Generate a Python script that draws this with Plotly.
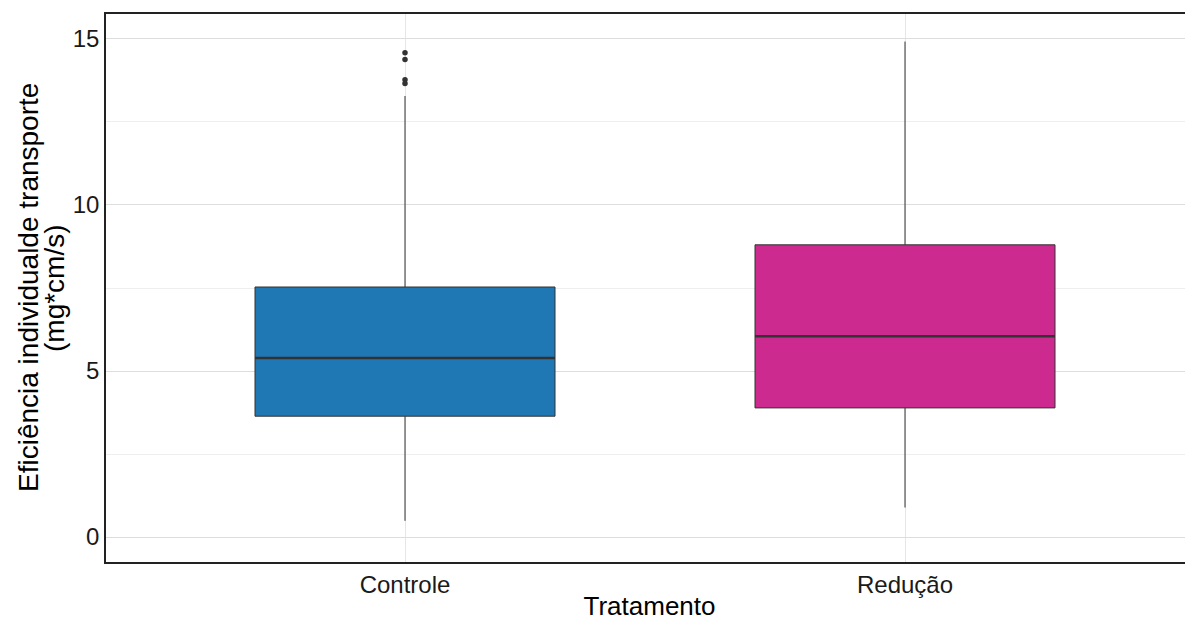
import plotly.graph_objects as go

categories = ["Controle", "Redução"]
q1 = [3.64, 3.89]
median = [5.39, 6.05]
q3 = [7.53, 8.80]
lower_whisker = [0.49, 0.89]
upper_whisker = [13.28, 14.92]
fill_colors = ["#1F77B4", "#CC2A8E"]

outlier_cat = ["Controle", "Controle", "Controle", "Controle"]
outlier_val = [14.58, 14.38, 13.77, 13.66]

ytitle_lines = ["Eficiência individualde transporte", "(mg*cm/s)"]

fig = go.Figure()
for i, cat in enumerate(categories):
    fig.add_trace(go.Box(
        x=[cat], q1=[q1[i]], median=[median[i]], q3=[q3[i]],
        lowerfence=[lower_whisker[i]], upperfence=[upper_whisker[i]],
        fillcolor=fill_colors[i], line=dict(color="#333333", width=1),
        whiskerwidth=0, boxpoints=False, showlegend=False, name=cat,
        width=0.6, hoverinfo="skip"))
# thicker median line overlay
for i, cat in enumerate(categories):
    fig.add_trace(go.Box(
        x=[cat], q1=[median[i]], median=[median[i]], q3=[median[i]],
        lowerfence=[median[i]], upperfence=[median[i]],
        fillcolor="rgba(0,0,0,0)", line=dict(color="#333333", width=2.5),
        whiskerwidth=0, boxpoints=False, showlegend=False, name=cat,
        width=0.6, hoverinfo="skip"))

fig.add_trace(go.Scatter(
    x=outlier_cat, y=outlier_val, mode="markers",
    marker=dict(color="#333333", size=5.5), showlegend=False))

for text, shift in zip(ytitle_lines, [-78, -52]):
    fig.add_annotation(
        text=text, xref="paper", yref="paper", x=0, y=0.5,
        xanchor="center", yanchor="middle", xshift=shift,
        textangle=-90, showarrow=False,
        font=dict(size=28, color="black"))

fig.update_layout(
    width=1185, height=613,
    margin=dict(l=98, r=0, t=6, b=59),
    paper_bgcolor="white", plot_bgcolor="white",
    boxmode="overlay",
    font=dict(family="Liberation Sans, Arial, sans-serif", color="black"),
    xaxis=dict(
        type="category", range=[-0.598, 1.576],
        showline=True, linecolor="#222222", linewidth=1.5, mirror=True,
        showgrid=True, gridcolor="#E6E6E6", gridwidth=1.2,
        ticks="", tickfont=dict(size=24, color="#1a1a1a"),
        title=dict(text="Tratamento", font=dict(size=26), standoff=2),
        zeroline=False),
    yaxis=dict(
        range=[-0.75, 15.75],
        tickvals=[0, 5, 10, 15],
        showline=True, linecolor="#222222", linewidth=1.5, mirror=False,
        showgrid=True, gridcolor="#DDDDDD", gridwidth=1.2,
        minor=dict(tickvals=[2.5, 7.5, 12.5], showgrid=True, gridcolor="#EEEEEE", gridwidth=1),
        ticks="", tickfont=dict(size=24, color="#1a1a1a"),
        zeroline=False),
)

fig.write_html("out.html")
